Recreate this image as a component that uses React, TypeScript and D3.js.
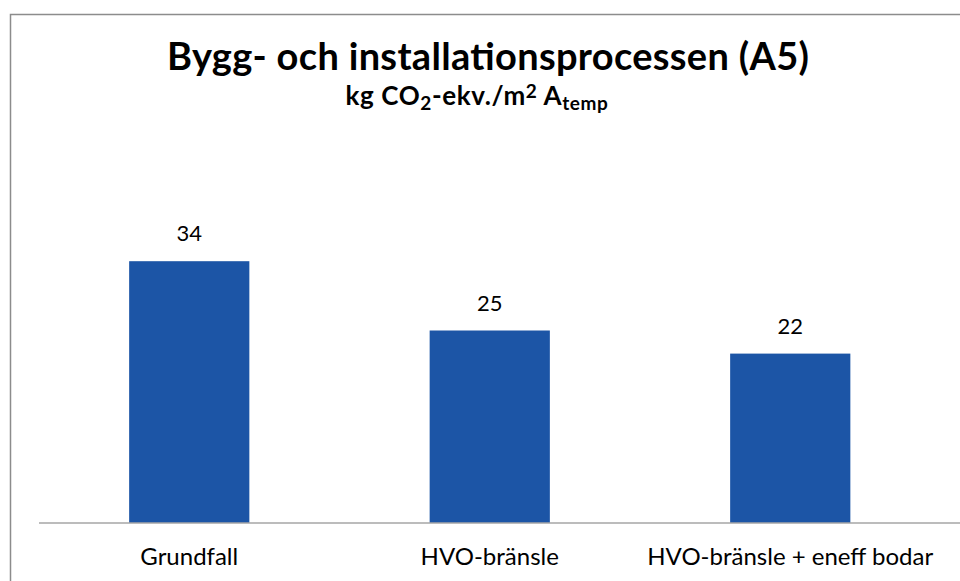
import React from "react";
import * as d3 from "d3";

const categories = ["Grundfall", "HVO-bränsle", "HVO-bränsle + eneff bodar"];
const values = [34, 25, 22];
const titleText = "Bygg- och installationsprocessen (A5)";

const W = 960;
const H = 581;
const barColor = "#1c55a6";
const font = "Lato, 'Noto Sans', sans-serif";

export default function App() {
  const x = d3
    .scaleBand<string>()
    .domain(categories)
    .range([39, 940.5])
    .paddingInner(0.6)
    .paddingOuter(0.3);

  const y = d3.scaleLinear().domain([0, 40]).range([523, 215]);

  return (
    <svg
      width={W}
      height={H}
      style={{ position: "absolute", left: 0, top: 0, background: "#fff" }}
      fontFamily={font}
    >
      {/* chart frame */}
      <rect x={10.5} y={14.5} width={W} height={H} fill="white" stroke="#8c8c8c" strokeWidth={1.5} />

      <text x={488} y={70} textAnchor="middle" fontSize={38} fontWeight="bold" fill="#000"
        textLength={642} lengthAdjust="spacing">
        {titleText}
      </text>
      <text x={477} y={105} textAnchor="middle" fontSize={26} fontWeight="bold" fill="#000"
        letterSpacing={0.6}>
        <tspan>kg CO</tspan>
        <tspan fontSize={19} dy={5}>2</tspan>
        <tspan dy={-5}>-ekv./m</tspan>
        <tspan fontSize={19} dy={-7}>2</tspan>
        <tspan dy={7}> A</tspan>
        <tspan fontSize={19} dy={5}>temp</tspan>
      </text>

      {categories.map((c, i) => (
        <g key={c}>
          <rect
            x={x(c)}
            y={y(values[i])}
            width={x.bandwidth()}
            height={y(0) - y(values[i])}
            fill={barColor}
          />
          <text
            x={(x(c) as number) + x.bandwidth() / 2}
            y={y(values[i]) - 20}
            textAnchor="middle"
            fontSize={22}
            fill="#000"
          >
            {values[i]}
          </text>
          <text
            x={(x(c) as number) + x.bandwidth() / 2}
            y={565}
            textAnchor="middle"
            fontSize={24}
            fill="#000"
          >
            {c}
          </text>
        </g>
      ))}

      <line x1={39} x2={W} y1={y(0)} y2={y(0)} stroke="#a6a6a6" strokeWidth={1.5} />
    </svg>
  );
}
